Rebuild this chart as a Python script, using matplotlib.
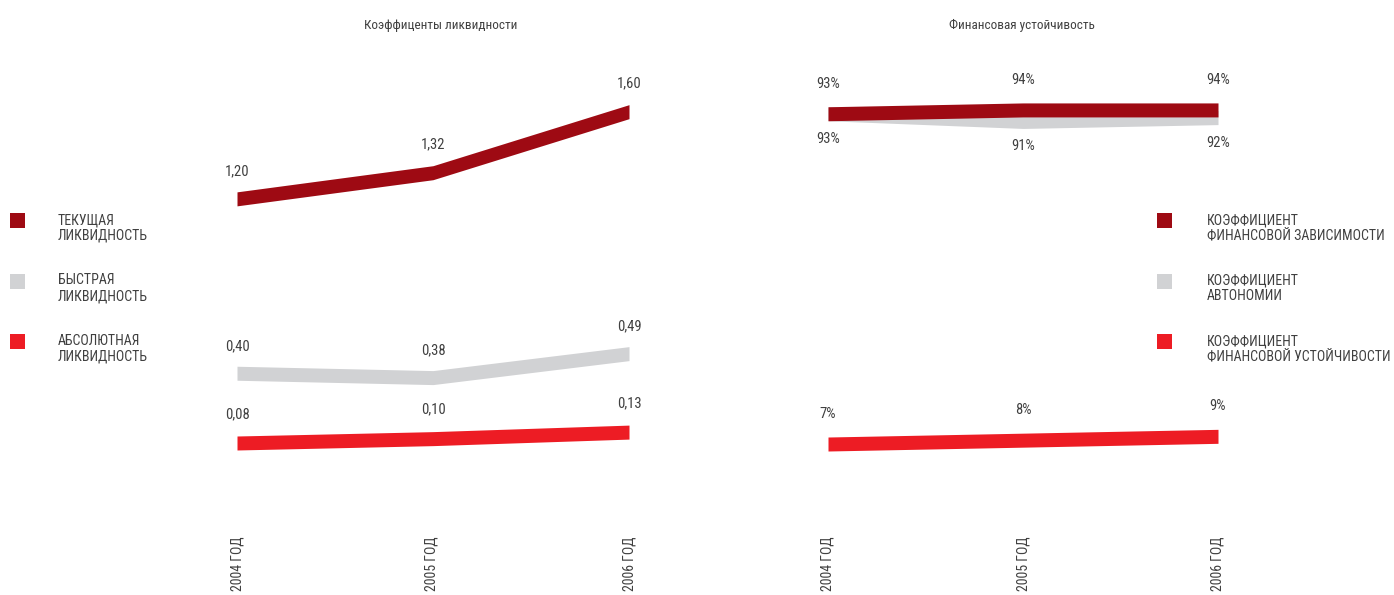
import matplotlib
matplotlib.use("Agg")
import matplotlib.pyplot as plt
from matplotlib.patches import Rectangle

# ---- data ----
years = ["2004 ГОД", "2005 ГОД", "2006 ГОД"]

liq_title = "Коэффиценты ликвидности"
liq_names = ["ТЕКУЩАЯ\nЛИКВИДНОСТЬ", "БЫСТРАЯ\nЛИКВИДНОСТЬ", "АБСОЛЮТНАЯ\nЛИКВИДНОСТЬ"]
liq_current = [1.20, 1.32, 1.60]
liq_quick = [0.40, 0.38, 0.49]
liq_absolute = [0.08, 0.10, 0.13]

fin_title = "Финансовая устойчивость"
fin_names = ["КОЭФФИЦИЕНТ\nФИНАНСОВОЙ ЗАВИСИМОСТИ", "КОЭФФИЦИЕНТ\nАВТОНОМИИ",
             "КОЭФФИЦИЕНТ\nФИНАНСОВОЙ УСТОЙЧИВОСТИ"]
fin_dependence = [93, 94, 94]
fin_autonomy = [93, 91, 92]
fin_stability = [7, 8, 9]

DARK = "#9e0a13"
GREY = "#d1d2d4"
RED = "#ed1c24"
TEXT = "#404040"

plt.rcParams["font.family"] = ["Roboto Condensed", "DejaVu Sans"]

W, H = 1394, 595
fig = plt.figure(figsize=(W / 100, H / 100), dpi=100)


def fx(px):
    return px / W


def fy(py):
    return 1 - py / H


def make_axes(x0, x1, top, bottom, ylim):
    ax = fig.add_axes([fx(x0), fy(bottom), fx(x1) - fx(x0), fy(top) - fy(bottom)])
    ax.set_xlim(0, 2)
    ax.set_ylim(*ylim)
    ax.axis("off")
    return ax


def band(ax, values, color, thick_px=14):
    x = list(range(len(values)))
    lo, hi = ax.get_ylim()
    h_px = ax.get_position().height * H
    half = thick_px / 2 * (hi - lo) / h_px
    ax.fill_between(x, [v - half for v in values], [v + half for v in values],
                    color=color, lw=0, clip_on=False)


def labels(ax, values, texts, dy_px):
    for i, (v, t) in enumerate(zip(values, texts)):
        ax.annotate(t, (i, v), xytext=(0, dy_px), textcoords="offset pixels",
                    ha="center", va="center", fontsize=10.5, color=TEXT)


def fmt_dec(v):
    return f"{v:.2f}".replace(".", ",")


def fmt_pct(v):
    return f"{v:.0f}%"


# ---- left panel: liquidity ----
axl = make_axes(237, 629, 60, 500, (-0.1815, 1.837))
band(axl, liq_quick, GREY)
band(axl, liq_absolute, RED)
band(axl, liq_current, DARK)
labels(axl, liq_current, [fmt_dec(v) for v in liq_current], 28)
labels(axl, liq_quick, [fmt_dec(v) for v in liq_quick], 27)
labels(axl, liq_absolute, [fmt_dec(v) for v in liq_absolute], 29)

# ---- right panel: financial stability ----
axr = make_axes(828, 1218, 60, 500, (-7.58, 107.0))
band(axr, fin_autonomy, GREY)
band(axr, fin_stability, RED)
band(axr, fin_dependence, DARK)
labels(axr, fin_dependence, [fmt_pct(v) for v in fin_dependence], 30)
labels(axr, fin_autonomy, [fmt_pct(v) for v in fin_autonomy], -25)
labels(axr, fin_stability, [fmt_pct(v) for v in fin_stability], 30)

# ---- titles ----
fig.text(fx(441), fy(25), liq_title, ha="center", va="center", fontsize=9.5, color=TEXT)
fig.text(fx(1022), fy(25), fin_title, ha="center", va="center", fontsize=9.5, color=TEXT)

# ---- year labels ----
for xs in ([237, 432, 629], [828, 1023, 1218]):
    for x, yr in zip(xs, years):
        fig.text(fx(x), fy(591), yr, rotation=90, ha="center", va="bottom",
                 fontsize=10, color=TEXT)

# ---- legends ----
def legend(x_sq, x_txt, names):
    colors = [DARK, GREY, RED]
    for k, (name, c) in enumerate(zip(names, colors)):
        top = 213 + k * 60.5
        fig.patches.append(Rectangle((fx(x_sq), fy(top + 15)), 15 / W, 15 / H,
                                     transform=fig.transFigure, color=c, lw=0))
        fig.text(fx(x_txt), fy(top), name, ha="left", va="top", fontsize=10,
                 color=TEXT, linespacing=1.15)


legend(10, 58, liq_names)
legend(1157, 1207, fin_names)

fig.savefig("out.png", dpi=100)
